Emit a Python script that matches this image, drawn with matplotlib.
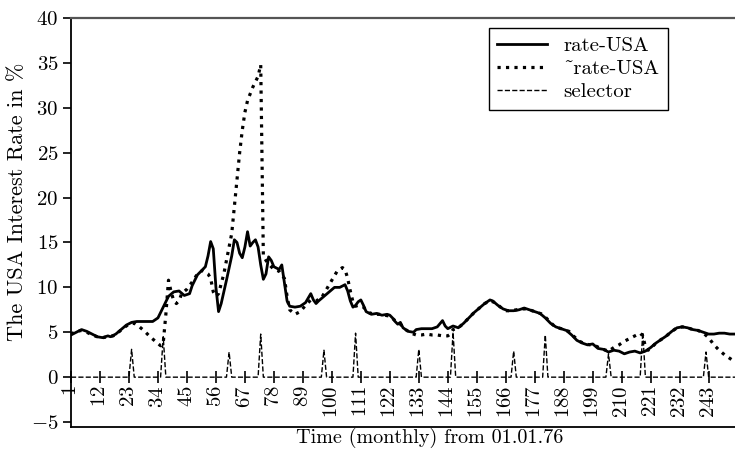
import numpy as np
import matplotlib
matplotlib.use("Agg")
import matplotlib.pyplot as plt

# rate-USA (solid): month -> %
rate_m = [1, 3, 5, 7, 9, 11, 13, 15, 16, 18, 20, 22, 24, 26, 28, 30, 32, 34, 36, 38,
          40, 42, 44, 46, 47, 49, 51, 52, 53, 54, 55, 56, 57, 58, 60, 62, 63, 64, 65, 66,
          67, 68, 69, 70, 71, 72, 73, 74, 75, 76, 77, 78, 80, 81, 82, 83, 84, 86, 88, 90,
          91, 92, 93, 94, 95, 97, 99, 101, 103, 105, 106, 107, 108, 109, 110, 111, 112, 113, 115, 117,
          119, 121, 122, 123, 124, 125, 126, 127, 129, 131, 132, 134, 136, 138, 140, 142, 143, 144, 146, 148,
          150, 152, 154, 156, 158, 160, 161, 163, 165, 167, 169, 171, 173, 175, 177, 179, 181, 183, 185, 187,
          189, 191, 193, 195, 197, 199, 201, 203, 205, 207, 209, 211, 213, 215, 217, 219, 221, 223, 225, 227,
          229, 231, 233, 235, 237, 239, 241, 243, 245, 247, 249, 251, 253]
rate_v = [4.7, 5.0, 5.3, 5.1, 4.8, 4.5, 4.4, 4.6, 4.5, 4.8, 5.3, 5.8, 6.1, 6.2, 6.2, 6.2, 6.2, 6.6, 7.8, 9.0,
          9.5, 9.6, 9.1, 9.3, 10.2, 11.4, 12.0, 12.3, 13.5, 15.1, 14.3, 10.0, 7.3, 8.2, 10.8, 13.5, 15.3, 15.0, 13.8, 13.3,
          14.5, 16.2, 14.6, 15.0, 15.3, 14.5, 12.5, 10.9, 11.5, 13.4, 13.0, 12.3, 12.0, 12.5, 10.5, 8.5, 7.9, 7.8, 7.9, 8.3,
          8.8, 9.3, 8.6, 8.2, 8.5, 9.0, 9.5, 10.0, 10.0, 10.3, 9.6, 8.5, 7.8, 8.0, 8.4, 8.6, 8.0, 7.3, 7.0, 7.1,
          6.9, 7.0, 6.9, 6.6, 6.2, 5.9, 6.1, 5.5, 5.1, 5.0, 5.3, 5.4, 5.4, 5.4, 5.6, 6.3, 5.7, 5.4, 5.7, 5.5,
          6.0, 6.6, 7.2, 7.7, 8.2, 8.6, 8.5, 8.0, 7.6, 7.4, 7.4, 7.5, 7.7, 7.5, 7.3, 7.1, 6.6, 6.0, 5.6, 5.4,
          5.2, 4.7, 4.1, 3.8, 3.6, 3.7, 3.2, 3.1, 2.8, 3.0, 2.9, 2.6, 2.8, 2.9, 2.7, 2.9, 3.3, 3.8, 4.2, 4.6,
          5.1, 5.5, 5.6, 5.5, 5.3, 5.2, 5.0, 4.8, 4.8, 4.9, 4.9, 4.8, 4.8]

# ~rate-USA (dotted)
est_m = [1, 3, 5, 7, 9, 11, 13, 15, 17, 19, 21, 23, 25, 27, 29, 31, 33, 35, 36, 37,
         38, 39, 40, 41, 42, 43, 45, 47, 49, 51, 53, 54, 55, 56, 57, 59, 61, 62, 63, 64,
         65, 66, 67, 68, 70, 72, 73, 74, 75, 76, 78, 80, 82, 83, 84, 86, 88, 90, 92, 94,
         96, 98, 100, 102, 104, 105, 106, 107, 108, 109, 110, 112, 114, 116, 118, 120, 122, 124, 126, 128,
         130, 132, 134, 136, 138, 140, 142, 144, 145, 146, 148, 150, 152, 154, 156, 158, 160, 162, 164, 166,
         168, 170, 172, 174, 176, 178, 180, 182, 184, 186, 188, 190, 192, 194, 196, 198, 200, 202, 205, 207,
         209, 211, 213, 215, 217, 218, 219, 220, 221, 223, 225, 227, 229, 231, 233, 235, 237, 239, 241, 243,
         245, 247, 249, 251, 253]
est_v = [4.8, 5.1, 5.2, 5.0, 4.7, 4.5, 4.4, 4.5, 4.6, 5.0, 5.5, 5.9, 6.0, 5.6, 5.1, 4.5, 4.0, 3.5, 3.8, 7.0,
         10.8, 9.5, 8.5, 8.2, 8.5, 9.3, 9.8, 10.6, 11.5, 11.9, 11.5, 11.0, 9.5, 9.0, 9.3, 11.5, 14.5, 16.0, 19.0, 22.0,
         25.0, 27.5, 29.5, 30.8, 32.3, 33.5, 34.8, 13.5, 13.0, 12.6, 12.0, 11.8, 11.0, 9.0, 7.5, 7.0, 7.3, 8.0, 8.6, 8.5,
         8.8, 9.8, 10.8, 11.8, 12.2, 12.0, 11.0, 9.6, 8.4, 7.9, 8.0, 7.8, 7.2, 7.0, 7.0, 6.9, 6.8, 6.3, 5.9, 5.3,
         4.9, 4.7, 4.7, 4.8, 4.7, 4.7, 4.6, 4.6, 4.8, 5.3, 5.5, 6.0, 6.6, 7.2, 7.7, 8.2, 8.5, 8.3, 7.8, 7.4,
         7.4, 7.5, 7.6, 7.6, 7.4, 7.2, 7.0, 6.4, 5.8, 5.5, 5.3, 5.1, 4.5, 4.0, 3.7, 3.6, 3.5, 3.2, 2.9, 3.3,
         3.6, 4.0, 4.3, 4.6, 4.9, 4.6, 3.4, 3.0, 3.2, 3.8, 4.2, 4.6, 5.1, 5.5, 5.6, 5.5, 5.3, 5.2, 4.9, 4.4,
         3.6, 3.0, 2.5, 2.1, 1.7]

# selector peaks (month, height); zero elsewhere
sel_month = [24, 36, 61, 73, 97, 109, 133, 146, 169, 181, 205, 218, 242]
sel_peak = [3.1, 4.5, 2.8, 4.8, 3.0, 4.9, 3.1, 5.0, 2.9, 4.7, 2.6, 5.0, 2.8]

xticks = list(range(1, 244, 11))
yticks = list(range(-5, 41, 5))

plt.rcParams['font.family'] = ['cmr10', 'DejaVu Serif']
plt.rcParams['mathtext.fontset'] = 'cm'
plt.rcParams['axes.formatter.use_mathtext'] = True

months = np.arange(1, 254)
selector = np.zeros(len(months))
for m, h in zip(sel_month, sel_peak):
    selector[m - 1] = h

fig = plt.figure(figsize=(7.35, 4.5), dpi=100)
ax = fig.add_axes([71 / 735, 23 / 450, 664 / 735, 409 / 450])

l3, = ax.plot(months, selector, color='black', lw=1.0, ls='--', label='selector')
l2, = ax.plot(est_m, est_v, color='black', lw=2.3, ls=':', label='~rate-USA')
l1, = ax.plot(rate_m, rate_v, color='black', lw=2.0, ls='-', label='rate-USA')

ax.set_xlim(1, 253)
ax.set_ylim(-5.55, 40)
ax.set_xticks(xticks)
ax.set_yticks(yticks)

ax.spines['bottom'].set_position(('data', 0))
ax.spines['bottom'].set_linewidth(0)
ax.spines['right'].set_visible(False)
ax.spines['top'].set_color('#555555')
ax.spines['top'].set_linewidth(1.6)
ax.spines['left'].set_linewidth(1.3)
ax.plot([0, 1], [0, 0], transform=ax.transAxes, color='black', lw=1.3, clip_on=False)

ax.tick_params(axis='x', direction='inout', length=8, width=1.2, labelrotation=90,
               labelsize=15, pad=2)
ax.tick_params(axis='y', direction='out', length=6, width=1.2, labelsize=15, pad=3)

ax.set_xlabel('Time (monthly) from 01.01.76', fontsize=14.5)
ax.set_ylabel('The USA Interest Rate in %', fontsize=16)
ax.xaxis.set_label_coords(0.54, -0.002)
ax.yaxis.set_label_coords(-0.066, 0.55)

leg = ax.legend(handles=[l1, l2, l3], loc='upper right', bbox_to_anchor=(0.899, 0.9756),
                borderaxespad=0, fontsize=15, frameon=True, fancybox=False, framealpha=1,
                edgecolor='black', handlelength=2.4, handletextpad=0.8,
                labelspacing=0.22, borderpad=0.4)
leg.get_frame().set_linewidth(1.0)

fig.savefig('out.png', dpi=100)
